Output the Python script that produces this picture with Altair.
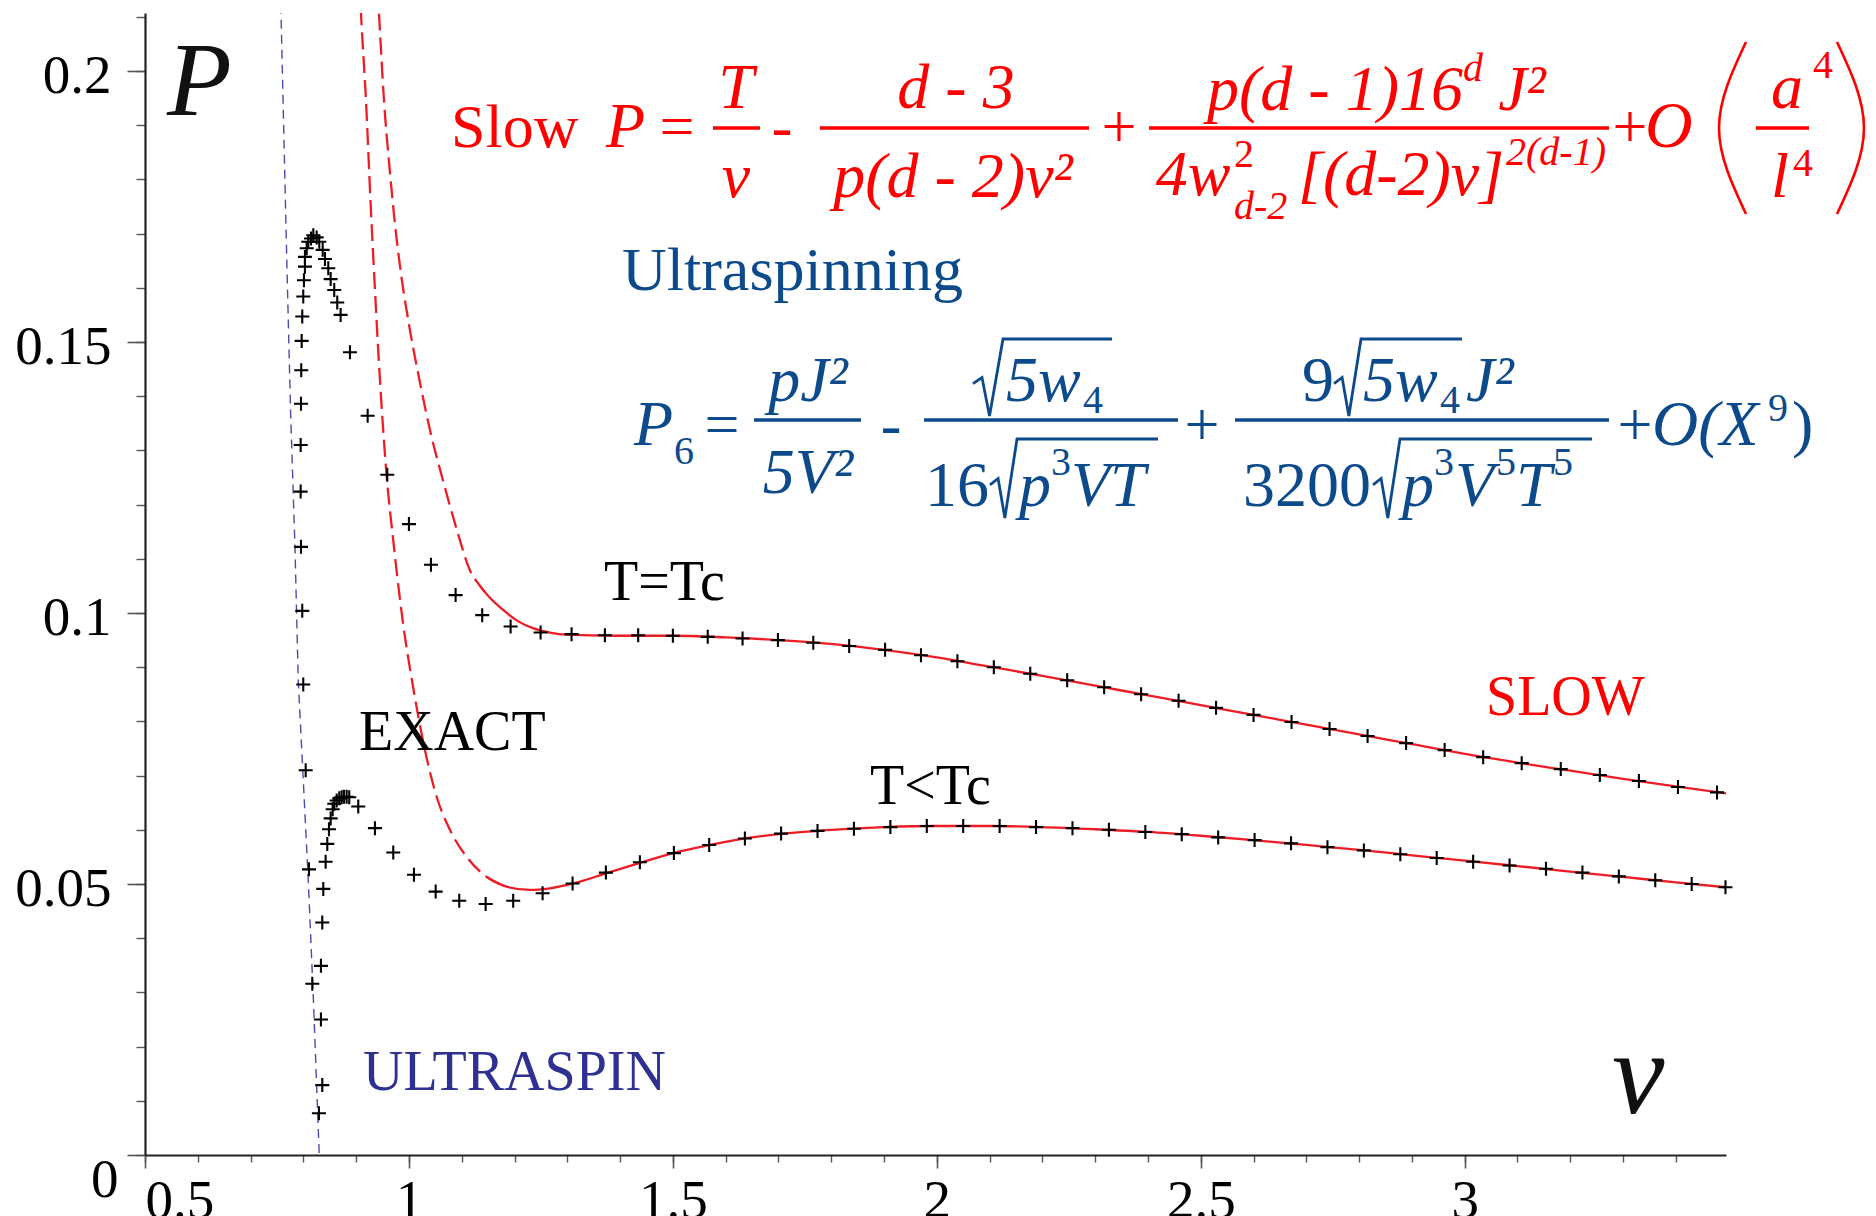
import altair as alt
import pandas as pd

# ------------------------------------------------------------------ data
# exact equation of state, T = Tc (black crosses)
exact_tc_v = [0.8295, 0.8169, 0.8106, 0.8044, 0.7998, 0.7979, 0.7955, 0.7949, 0.7949, 0.7955,
              0.7960, 0.7968, 0.7979, 0.7998, 0.8011, 0.8030, 0.8030, 0.8063, 0.8093, 0.8144,
              0.8188, 0.8252, 0.8301, 0.8366, 0.8409, 0.8472, 0.8517, 0.8585, 0.8642, 0.8706,
              0.8883, 0.9218, 0.9589, 1.0000, 1.0417, 1.0884, 1.1388, 1.1926, 1.2494, 1.3081,
              1.3712, 1.4343, 1.500, 1.566, 1.632, 1.699, 1.766, 1.834, 1.902, 1.970,
              2.039, 2.108, 2.177, 2.247, 2.317, 2.387, 2.458, 2.529, 2.600, 2.672,
              2.744, 2.816, 2.889, 2.962, 3.035, 3.108, 3.182, 3.256, 3.330, 3.404,
              3.478]
exact_tc_p = [0.0077, 0.0316, 0.0527, 0.0710, 0.0868, 0.1004, 0.1122, 0.1224, 0.1310, 0.1386,
              0.1448, 0.1502, 0.1547, 0.1584, 0.1614, 0.1639, 0.1657, 0.1673, 0.1685, 0.1691,
              0.1697, 0.1693, 0.1685, 0.1670, 0.1653, 0.1636, 0.1616, 0.1596, 0.1573, 0.1550,
              0.1481, 0.1364, 0.1255, 0.1164, 0.1089, 0.1033, 0.0996, 0.0975, 0.0964, 0.0961,
              0.0959, 0.0959, 0.0958, 0.0956, 0.0953, 0.0950, 0.0945, 0.0939, 0.0932, 0.0922,
              0.0911, 0.0900, 0.0888, 0.0876, 0.0863, 0.0850, 0.0838, 0.0825, 0.0812, 0.0799,
              0.0786, 0.0773, 0.0760, 0.0747, 0.0734, 0.0723, 0.0712, 0.0701, 0.0690, 0.0679,
              0.0669]

# exact equation of state, T < Tc
exact_lt_v = [0.8358, 0.8333, 0.8333, 0.8358, 0.8377, 0.8422, 0.8453, 0.8485, 0.8517, 0.8555,
              0.8585, 0.8631, 0.8680, 0.8725, 0.8769, 0.8820, 0.8869, 0.9040, 0.9356, 0.9703,
              1.0095, 1.0506, 1.0953, 1.1453, 1.1975, 1.2532, 1.3100, 1.3731, 1.4375, 1.5019,
              1.5688, 1.6364, 1.705, 1.774, 1.843, 1.912, 1.981, 2.050, 2.119, 2.188,
              2.257, 2.326, 2.395, 2.464, 2.533, 2.602, 2.671, 2.740, 2.809, 2.878,
              2.947, 3.016, 3.085, 3.154, 3.223, 3.292, 3.361, 3.430, 3.494]
exact_lt_p = [0.0129, 0.0250, 0.0349, 0.0429, 0.0491, 0.0541, 0.0574, 0.0601, 0.0621, 0.0638,
              0.0648, 0.0654, 0.0658, 0.0660, 0.0661, 0.0661, 0.0660, 0.0643, 0.0603, 0.0558,
              0.0517, 0.0486, 0.0469, 0.0463, 0.0469, 0.0483, 0.0501, 0.0521, 0.0540, 0.0557,
              0.0572, 0.0584, 0.0593, 0.0598, 0.0602, 0.0605, 0.0607, 0.0607, 0.0607, 0.0605,
              0.0603, 0.0600, 0.0596, 0.0592, 0.0586, 0.0581, 0.0575, 0.0568, 0.0562, 0.0555,
              0.0548, 0.0541, 0.0534, 0.0528, 0.0521, 0.0514, 0.0507, 0.0500, 0.0494]

# slow-rotation approximation (red)
slow_tc_v = [0.9407, 0.9432, 0.9527, 0.9631, 0.9754, 0.9867, 1.0019, 1.0199, 1.0407, 1.0644,
             1.0909, 1.1155, 1.1345, 1.1534, 1.1780, 1.2064, 1.2348, 1.2670, 1.2992, 1.3939,
             1.4564, 1.5, 1.6, 1.7, 1.8, 1.9, 2.0, 2.1, 2.2, 2.3,
             2.4, 2.5, 2.6, 2.7, 2.8, 2.9, 3.0, 3.1, 3.2, 3.3,
             3.4, 3.495]
slow_tc_p = [0.2150, 0.2107, 0.1946, 0.1823, 0.1701, 0.1614, 0.1522, 0.1430, 0.1334, 0.1245,
             0.1153, 0.1079, 0.1050, 0.1028, 0.1006, 0.0985, 0.0972, 0.0964, 0.0960, 0.0958,
             0.0958, 0.0958, 0.0955, 0.0950, 0.0943, 0.0932, 0.0918, 0.0901, 0.0884, 0.0866,
             0.0848, 0.0830, 0.0812, 0.0794, 0.0776, 0.0758, 0.0740, 0.0724, 0.0709, 0.0694,
             0.0680, 0.0667]
slow_lt_v = [0.9065, 0.9091, 0.9186, 0.9271, 0.9347, 0.9432, 0.9564, 0.9716, 0.9905, 1.0057,
             1.0303, 1.0525, 1.0777, 1.1093, 1.1472, 1.1850, 1.2292, 1.2670, 1.3112, 1.3744,
             1.4375, 1.5006, 1.5701, 1.6364, 1.7, 1.8, 1.9, 2.0, 2.1, 2.2,
             2.3, 2.4, 2.5, 2.6, 2.7, 2.8, 2.9, 3.0, 3.1, 3.2,
             3.3, 3.4, 3.495]
slow_lt_p = [0.2160, 0.2107, 0.1946, 0.1762, 0.1614, 0.1461, 0.1269, 0.1122, 0.0969, 0.0876,
             0.0747, 0.0661, 0.0600, 0.0550, 0.0513, 0.0495, 0.0489, 0.0492, 0.0501, 0.0520,
             0.0539, 0.0557, 0.0572, 0.0584, 0.0592, 0.0600, 0.0605, 0.0607, 0.0607, 0.0605,
             0.0601, 0.0596, 0.0589, 0.0581, 0.0572, 0.0563, 0.0553, 0.0543, 0.0533, 0.0523,
             0.0513, 0.0503, 0.0494]
slow_dash_until = 1.15   # red curves are drawn dashed for small v

# ultraspinning approximation (blue dashed)
ultra_v = [0.7560, 0.7576, 0.7695, 0.7759, 0.7841, 0.7903, 0.7998, 0.8093, 0.8188, 0.8301]
ultra_p = [0.2150, 0.2109, 0.1614, 0.1368, 0.1122, 0.0876, 0.0692, 0.0507, 0.0292, 0.0000]

x_major = [0.5, 1, 1.5, 2, 2.5, 3]
y_major = [0, 0.05, 0.1, 0.15, 0.2]
x_minor = [0.5, 0.6, 0.7, 0.8, 0.9, 1.0, 1.1, 1.2, 1.3, 1.4, 1.5, 1.6, 1.7, 1.8, 1.9, 2.0,
           2.1, 2.2, 2.3, 2.4, 2.5, 2.6, 2.7, 2.8, 2.9, 3.0, 3.1, 3.2, 3.3, 3.4]
y_minor = [0.0, 0.01, 0.02, 0.03, 0.04, 0.05, 0.06, 0.07, 0.08, 0.09, 0.1, 0.11, 0.12, 0.13,
           0.14, 0.15, 0.16, 0.17, 0.18, 0.19, 0.2, 0.21]

# ------------------------------------------------------------------ geometry
PADL, PADT = 145, 13
W, H = 1581, 1142
XD = [0.5, 3.495]
YD = [0.0, 0.2107]
FONT = "Liberation Serif"


def vx(px):
    return XD[0] + (px - PADL) / W * (XD[1] - XD[0])


def py(pyx):
    return YD[0] + (PADT + H - pyx) / H * (YD[1] - YD[0])


xs = alt.Scale(domain=XD, nice=False, zero=False)
ys = alt.Scale(domain=YD, nice=False, zero=False)

RED = "#ff0000"
LRED = "#ee1c25"
BLUE = "#0c4a8c"
UBLUE = "#2e3192"

# ------------------------------------------------------------------ tables
exact = pd.DataFrame({
    "v": exact_tc_v + exact_lt_v,
    "P": exact_tc_p + exact_lt_p,
    "series": ["T=Tc"] * len(exact_tc_v) + ["T<Tc"] * len(exact_lt_v),
})


def split(vs, ps, name):
    rows = []
    for i, (a, b) in enumerate(zip(vs, ps)):
        rows.append((a, b, name, "dash" if a <= slow_dash_until else "solid", i))
    k = next(i for i, a in enumerate(vs) if a > slow_dash_until)
    rows.append((vs[k], ps[k], name, "dash", k))
    rows.append((vs[k - 1], ps[k - 1], name, "solid", k - 1))
    return rows


slow = pd.DataFrame(split(slow_tc_v, slow_tc_p, "T=Tc") + split(slow_lt_v, slow_lt_p, "T<Tc"),
                    columns=["v", "P", "series", "seg", "order"])
ultra = pd.DataFrame({"v": ultra_v, "P": ultra_p})

# text pieces: (text, page x, page baseline y, size, colour, style, align)
pieces = [
    # red slow-rotation formula
    ("Slow", 451, 147, 62, RED, "normal", "left"),
    ("P", 606, 147, 64, RED, "italic", "left"),
    ("=", 677, 147, 62, RED, "normal", "center"),
    ("T", 736, 108, 64, RED, "italic", "center"),
    ("v", 736, 197, 64, RED, "italic", "center"),
    ("-", 782, 147, 62, RED, "normal", "center"),
    ("d - 3", 956, 108, 64, RED, "italic", "center"),
    ("p(d - 2)v²", 953, 197, 64, RED, "italic", "center"),
    ("+", 1119, 147, 62, RED, "normal", "center"),
    ("p(d - 1)16", 1335, 110, 64, RED, "italic", "center"),
    ("d", 1473, 81, 40, RED, "italic", "center"),
    ("J²", 1522, 110, 64, RED, "italic", "center"),
    ("4w", 1193, 195, 64, RED, "italic", "center"),
    ("2", 1234, 167, 40, RED, "normal", "left"),
    ("d-2", 1234, 219, 40, RED, "italic", "left"),
    ("[(d-2)v]", 1298, 195, 64, RED, "italic", "left"),
    ("2(d-1)", 1506, 165, 40, RED, "italic", "left"),
    ("+", 1630, 147, 62, RED, "normal", "center"),
    ("O", 1645, 147, 66, RED, "italic", "left"),
    ("a", 1771, 108, 64, RED, "italic", "left"),
    ("4", 1813, 78, 40, RED, "normal", "left"),
    ("l", 1771, 197, 64, RED, "italic", "left"),
    ("4", 1793, 176, 40, RED, "normal", "left"),
    # blue ultraspinning formula
    ("Ultraspinning", 622, 290, 62, BLUE, "normal", "left"),
    ("P", 634, 445, 64, BLUE, "italic", "left"),
    ("6", 674, 464, 40, BLUE, "normal", "left"),
    ("=", 722, 445, 62, BLUE, "normal", "center"),
    ("pJ²", 808, 401, 64, BLUE, "italic", "center"),
    ("5V²", 808, 493, 64, BLUE, "italic", "center"),
    ("-", 891, 445, 62, BLUE, "normal", "center"),
    ("5w", 1006, 401, 64, BLUE, "italic", "left"),
    ("4", 1083, 413, 40, BLUE, "normal", "left"),
    ("16", 925, 506, 64, BLUE, "normal", "left"),
    ("p", 1019, 506, 64, BLUE, "italic", "left"),
    ("3", 1051, 475, 40, BLUE, "normal", "left"),
    ("VT", 1071, 506, 64, BLUE, "italic", "left"),
    ("+", 1202, 445, 62, BLUE, "normal", "center"),
    ("9", 1302, 401, 64, BLUE, "normal", "left"),
    ("5w", 1363, 401, 64, BLUE, "italic", "left"),
    ("4", 1440, 413, 40, BLUE, "normal", "left"),
    ("J²", 1466, 401, 64, BLUE, "italic", "left"),
    ("3200", 1243, 506, 64, BLUE, "normal", "left"),
    ("p", 1402, 506, 64, BLUE, "italic", "left"),
    ("3", 1434, 475, 40, BLUE, "normal", "left"),
    ("V", 1455, 506, 64, BLUE, "italic", "left"),
    ("5", 1496, 475, 40, BLUE, "normal", "left"),
    ("T", 1516, 506, 64, BLUE, "italic", "left"),
    ("5", 1553, 475, 40, BLUE, "normal", "left"),
    ("+", 1635, 445, 62, BLUE, "normal", "center"),
    ("O(X", 1652, 445, 64, BLUE, "italic", "left"),
    ("9", 1768, 421, 40, BLUE, "normal", "left"),
    (")", 1792, 445, 64, BLUE, "normal", "left"),
    # plot labels
    ("T=Tc", 604, 600, 56, "black", "normal", "left"),
    ("EXACT", 359, 750, 56, "black", "normal", "left"),
    ("T<Tc", 870, 804, 56, "black", "normal", "left"),
    ("SLOW", 1486, 715, 56, RED, "normal", "left"),
    ("ULTRASPIN", 363, 1090, 56, UBLUE, "normal", "left"),
    ("P", 167, 115, 106, "#111111", "italic", "left"),
    ("v", 1612, 1113, 118, "#111111", "italic", "left"),
    ("0", 91, 1197, 55, "black", "normal", "left"),
]
txt = pd.DataFrame(pieces, columns=["t", "px", "py", "size", "color", "style", "align"])
txt["v"] = txt["px"].map(vx)
txt["P"] = txt["py"].map(py)

# fraction bars: (x1, x2, y, colour, width)
bars = [
    (713, 760, 128, RED, 3.5), (820, 1089, 128, RED, 3.5), (1149, 1609, 128, RED, 3.5),
    (1756, 1809, 128, RED, 3.5),
    (754, 861, 420, BLUE, 3.5), (924, 1178, 420, BLUE, 3.5), (1235, 1609, 420, BLUE, 3.5),
]
bar = pd.DataFrame(bars, columns=["x1", "x2", "y", "color", "w"])
bar["v1"] = bar["x1"].map(vx)
bar["v2"] = bar["x2"].map(vx)
bar["P"] = bar["y"].map(py)

# radical signs with overline: (id, left, overline start, top, bottom, overline end)
radicals = [("r1", 973, 1003, 339, 416, 1112), ("r2", 990, 1017, 439, 518, 1158),
            ("r3", 1334, 1361, 339, 416, 1462), ("r4", 1373, 1400, 439, 518, 1592)]
rad_rows = []
for rid, L, S, T, B, E in radicals:
    pts = [(L, T + 0.58 * (B - T)), (L + 0.3 * (S - L), T + 0.5 * (B - T)),
           (L + 0.55 * (S - L), B), (S, T), (E, T)]
    for o, (x, y) in enumerate(pts):
        rad_rows.append((rid, o, vx(x), py(y)))
rad = pd.DataFrame(rad_rows, columns=["k", "o", "v", "P"])

# large parentheses of O( a^4 / l^4 )
parens = [("L", 0, 1746, 42), ("L", 1, 1719, 128), ("L", 2, 1746, 214),
          ("R", 0, 1837, 42), ("R", 1, 1864, 128), ("R", 2, 1837, 214)]
par = pd.DataFrame(parens, columns=["k", "o", "x", "y"])
par["v"] = par["x"].map(vx)
par["P"] = par["y"].map(py)

# ------------------------------------------------------------------ layers
ax_x = alt.Axis(values=x_major, title=None, grid=False, orient="bottom",
                labelExpr="format(datum.value, '~g')", labelFont=FONT, labelFontSize=55,
                labelColor="black", labelFlush=True, labelPadding=6, labelBaseline="top",
                tickSize=13, tickColor="#555555", tickWidth=1.6,
                domainColor="#222222", domainWidth=2.2)
ax_y = alt.Axis(values=y_major, title=None, grid=False, orient="left",
                labelExpr="datum.value == 0 ? '' : format(datum.value, '~g')",
                labelFont=FONT, labelFontSize=55, labelColor="black", labelPadding=16,
                labelOffset=5, labelFlush=False, tickSize=18, tickColor="#555555",
                tickWidth=1.6, domainColor="#222222", domainWidth=2.2)
ax_x_minor = alt.Axis(values=x_minor, title=None, grid=False, orient="bottom", labels=False,
                      domain=False, tickSize=7, tickColor="#555555", tickWidth=1.4)
ax_y_minor = alt.Axis(values=y_minor, title=None, grid=False, orient="left", labels=False,
                      domain=False, tickSize=9, tickColor="#555555", tickWidth=1.4)

cross = "M-1,0L1,0M0,-1L0,1"
points = alt.Chart(exact).mark_point(
    shape=cross, size=196, filled=False, stroke="black", strokeWidth=2.1, opacity=1
).encode(
    x=alt.X("v:Q", scale=xs, axis=ax_x),
    y=alt.Y("P:Q", scale=ys, axis=ax_y),
    detail="series:N",
)

ultra_line = alt.Chart(ultra).mark_line(
    color="#4b4ba8", strokeWidth=1.4, strokeDash=[9, 6], clip=True
).encode(
    x=alt.X("v:Q", scale=xs, axis=ax_x_minor),
    y=alt.Y("P:Q", scale=ys, axis=ax_y_minor),
)

red_dash = alt.Chart(slow).transform_filter("datum.seg == 'dash'").mark_line(
    color=LRED, strokeWidth=2.3, strokeDash=[17, 7], clip=True, interpolate="monotone"
).encode(
    x=alt.X("v:Q", scale=xs, axis=None),
    y=alt.Y("P:Q", scale=ys, axis=None),
    detail="series:N",
    order="order:Q",
)
red_solid = alt.Chart(slow).transform_filter("datum.seg == 'solid'").mark_line(
    color=LRED, strokeWidth=2.3, clip=True, interpolate="monotone"
).encode(
    x=alt.X("v:Q", scale=xs, axis=None),
    y=alt.Y("P:Q", scale=ys, axis=None),
    detail="series:N",
    order="order:Q",
)

text_layers = []
for style in ["normal", "italic"]:
    for align in ["left", "center"]:
        text_layers.append(
            alt.Chart(txt).transform_filter(
                f"datum.style == '{style}' && datum.align == '{align}'"
            ).mark_text(font=FONT, fontStyle=style, align=align, baseline="alphabetic").encode(
                x=alt.X("v:Q", scale=xs, axis=None),
                y=alt.Y("P:Q", scale=ys, axis=None),
                text="t:N",
                size=alt.Size("size:Q", scale=None, legend=None),
                color=alt.Color("color:N", scale=None, legend=None),
            )
        )

rules = alt.Chart(bar).mark_rule().encode(
    x=alt.X("v1:Q", scale=xs, axis=None),
    x2="v2:Q",
    y=alt.Y("P:Q", scale=ys, axis=None),
    color=alt.Color("color:N", scale=None, legend=None),
    size=alt.Size("w:Q", scale=None, legend=None),
)

rad_lines = alt.Chart(rad).mark_line(color=BLUE, strokeWidth=2.8, strokeJoin="miter").encode(
    x=alt.X("v:Q", scale=xs, axis=None),
    y=alt.Y("P:Q", scale=ys, axis=None),
    detail="k:N",
    order="o:Q",
)

paren_lines = alt.Chart(par).mark_line(color=RED, strokeWidth=2.6, interpolate="natural").encode(
    x=alt.X("v:Q", scale=xs, axis=None),
    y=alt.Y("P:Q", scale=ys, axis=None),
    detail="k:N",
    order="o:Q",
)

chart = alt.layer(
    ultra_line, red_dash, red_solid, points, rules, rad_lines, paren_lines, *text_layers
).resolve_axis(
    x="independent", y="independent"
).properties(
    width=W, height=H,
    autosize=alt.AutoSizeParams(type="none"),
    padding={"left": PADL, "top": PADT, "right": 1876 - PADL - W, "bottom": 1216 - PADT - H},
    background="white",
).configure_view(stroke=None)

chart.save("out.html", embed_options={"renderer": "svg", "actions": False})
